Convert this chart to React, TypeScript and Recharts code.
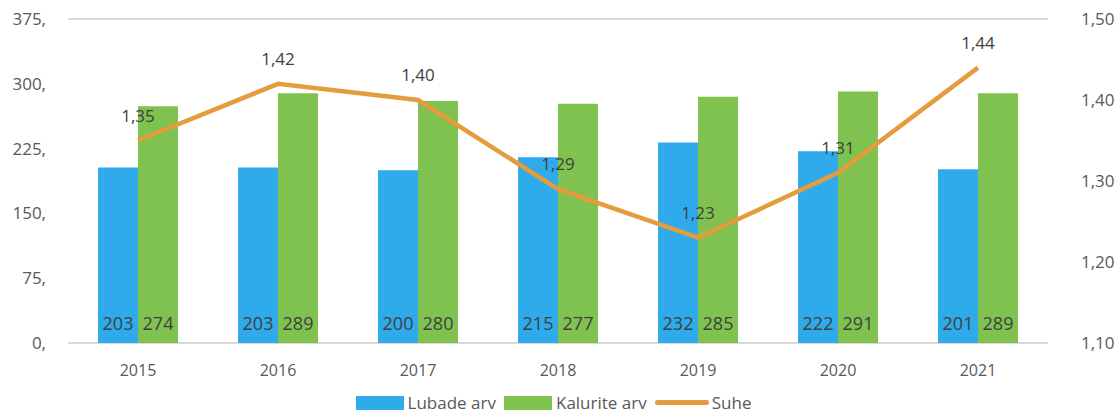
import React from 'react';
import { ComposedChart, Bar, Line, XAxis, YAxis, CartesianGrid, Legend, LabelList } from 'recharts';

const years = ['2015', '2016', '2017', '2018', '2019', '2020', '2021'];
const lubadeArv = [203, 203, 200, 215, 232, 222, 201];
const kaluriteArv = [274, 289, 280, 277, 285, 291, 289];
const suhe = [1.35, 1.42, 1.4, 1.29, 1.23, 1.31, 1.44];

const leftTicks = [0, 75, 150, 225, 300, 375];
const rightTicks = [1.1, 1.2, 1.3, 1.4, 1.5];

const BLUE = '#2FAAEB';
const GREEN = '#80C24F';
const ORANGE = '#E49C3D';
const FONT = '"Open Sans", "Noto Sans", sans-serif';

const data = years.map((y, i) => ({
  year: y,
  lubade: lubadeArv[i],
  kalurite: kaluriteArv[i],
  suhe: suhe[i],
}));

const fmtComma = (v: number) => v.toFixed(2).replace('.', ',');

// legend with wide colour swatches like the original
const CustomLegend = () => {
  const items = [
    { label: 'Lubade arv', color: BLUE, kind: 'rect' },
    { label: 'Kalurite arv', color: GREEN, kind: 'rect' },
    { label: 'Suhe', color: ORANGE, kind: 'line' },
  ];
  return (
    <div style={{ display: 'flex', justifyContent: 'center', alignItems: 'center', fontFamily: FONT, fontSize: 17, color: '#595959' }}>
      {items.map((it) => (
        <div key={it.label} style={{ display: 'flex', alignItems: 'center', marginRight: 8 }}>
          {it.kind === 'rect' ? (
            <span style={{ display: 'inline-block', width: 48, height: 14, background: it.color, marginRight: 4 }} />
          ) : (
            <span style={{ display: 'inline-block', width: 54, height: 5, borderRadius: 3, background: it.color, marginRight: 3 }} />
          )}
          <span>{it.label}</span>
        </div>
      ))}
    </div>
  );
};

export default function App() {
  return (
    <div style={{ width: 1115, height: 415, background: '#fff' }}>
      <style>{'body{margin:0}'}</style>
      <ComposedChart
        width={1115}
        height={415}
        data={data}
        margin={{ top: 19, right: 0, left: 0, bottom: 0 }}
        barGap={0}
      >
        <CartesianGrid vertical={false} stroke="#D9D9D9" strokeWidth={2} />
        <XAxis
          dataKey="year"
          axisLine={false}
          tickLine={false}
          tickMargin={16}
          height={49}
          tick={{ fill: '#595959', fontSize: 16, fontFamily: FONT }}
        />
        <YAxis
          yAxisId="left"
          width={68}
          domain={[0, 375]}
          ticks={leftTicks}
          axisLine={false}
          tickLine={false}
          tickFormatter={(v) => `${v},`}
          tickMargin={16}
          tick={{ fill: '#595959', fontSize: 17, fontFamily: FONT }}
        />
        <YAxis
          yAxisId="right"
          orientation="right"
          width={67}
          domain={[1.1, 1.5]}
          ticks={rightTicks}
          axisLine={false}
          tickLine={false}
          tickFormatter={fmtComma}
          tickMargin={27}
          tick={{ fill: '#595959', fontSize: 17, fontFamily: FONT }}
        />
        <Bar yAxisId="left" dataKey="lubade" name="Lubade arv" fill={BLUE} barSize={40} isAnimationActive={false}>
          <LabelList dataKey="lubade" position="insideBottom" offset={13} fill="#404040" fontSize={18} fontFamily={FONT} />
        </Bar>
        <Bar yAxisId="left" dataKey="kalurite" name="Kalurite arv" fill={GREEN} barSize={40} isAnimationActive={false}>
          <LabelList dataKey="kalurite" position="insideBottom" offset={13} fill="#404040" fontSize={18} fontFamily={FONT} />
        </Bar>
        <Line
          yAxisId="right"
          type="linear"
          dataKey="suhe"
          name="Suhe"
          stroke={ORANGE}
          strokeWidth={4.5}
          dot={false}
          activeDot={false}
          isAnimationActive={false}
        >
          <LabelList dataKey="suhe" position="top" offset={19} formatter={(v: any) => fmtComma(Number(v))} fill="#404040" fontSize={17} fontFamily={FONT} />
        </Line>
        <Legend content={<CustomLegend />} wrapperStyle={{ position: 'absolute', top: 391, left: 0, width: 1115, bottom: 'auto' }} />
      </ComposedChart>
    </div>
  );
}
